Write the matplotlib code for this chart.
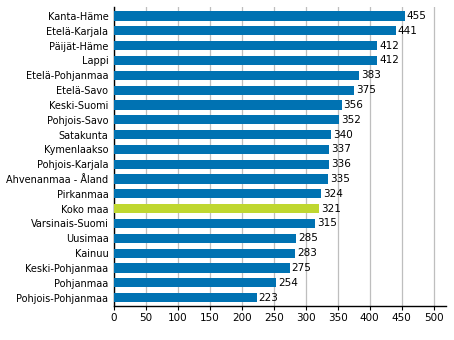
import matplotlib
matplotlib.use("Agg")
import matplotlib.pyplot as plt

# Regions ordered from highest to lowest value
regions = ["Kanta-Häme", "Etelä-Karjala", "Päijät-Häme", "Lappi", "Etelä-Pohjanmaa",
           "Etelä-Savo", "Keski-Suomi", "Pohjois-Savo", "Satakunta", "Kymenlaakso",
           "Pohjois-Karjala", "Ahvenanmaa - Åland", "Pirkanmaa", "Koko maa",
           "Varsinais-Suomi", "Uusimaa", "Kainuu", "Keski-Pohjanmaa", "Pohjanmaa",
           "Pohjois-Pohjanmaa"]
values = [455, 441, 412, 412, 383, 375, 356, 352, 340, 337,
          336, 335, 324, 321, 315, 285, 283, 275, 254, 223]
xticks = [0, 50, 100, 150, 200, 250, 300, 350, 400, 450, 500]

blue = "#0072B2"
green = "#BFD730"
colors = [green if r == "Koko maa" else blue for r in regions]

fig = plt.figure(figsize=(4.54, 3.4), dpi=100)
ax = fig.add_axes([0.251, 0.1, 0.731, 0.879])

pos = list(range(len(regions)))
ax.barh(pos, values, height=0.62, color=colors, zorder=3)
for y, v in zip(pos, values):
    ax.text(v + 3, y, str(v), va="center", ha="left", fontsize=7.5, zorder=4)

ax.set_yticks(pos)
ax.set_yticklabels(regions, fontsize=7)
ax.set_ylim(len(regions) - 0.43, -0.6)
ax.set_xlim(0, 519)
ax.set_xticks(xticks)
ax.set_xticklabels([str(t) for t in xticks], fontsize=7.5)

ax.grid(axis="x", color="#BEBEBE", linewidth=0.9, zorder=0)
ax.spines["top"].set_visible(False)
ax.spines["right"].set_visible(False)
ax.spines["left"].set_linewidth(1.0)
ax.spines["bottom"].set_linewidth(1.0)
ax.tick_params(axis="y", length=0, pad=4)
ax.tick_params(axis="x", length=3, width=0.8, pad=2)

fig.savefig("out.png", dpi=100)
